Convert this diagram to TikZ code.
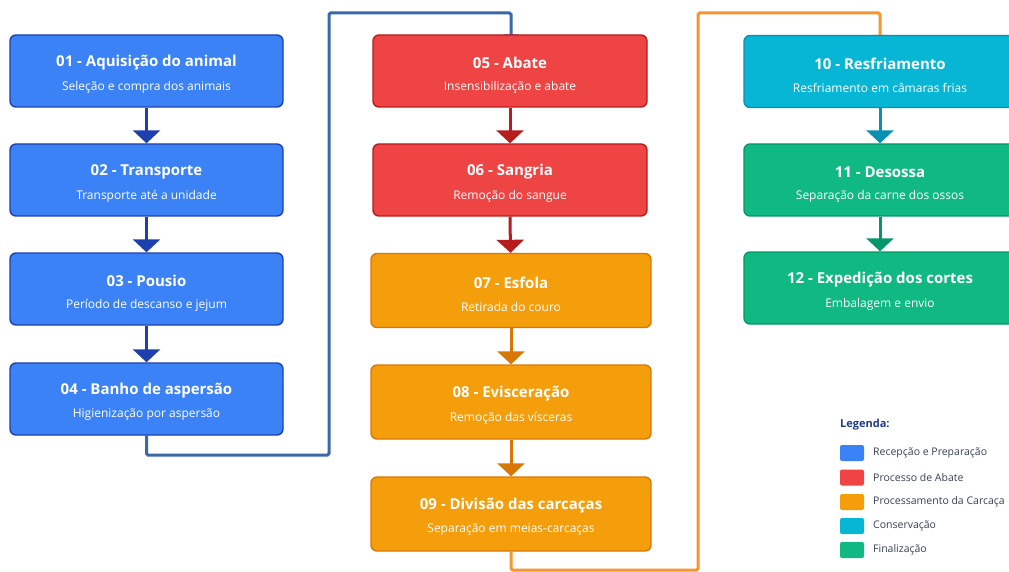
\documentclass[tikz,border=0pt]{standalone}
\usepackage{fontspec}
\setmainfont{Open Sans}
\usetikzlibrary{arrows.meta,calc}
\definecolor{bF}{HTML}{3B82F6}\definecolor{bD}{HTML}{1E40AF}
\definecolor{rF}{HTML}{EF4444}\definecolor{rD}{HTML}{B91C1C}
\definecolor{oF}{HTML}{F59E0B}\definecolor{oD}{HTML}{D97706}
\definecolor{cF}{HTML}{06B6D4}\definecolor{cD}{HTML}{0891B2}
\definecolor{gF}{HTML}{10B981}\definecolor{gD}{HTML}{059669}
\definecolor{linkB}{HTML}{3A69A6}\definecolor{linkO}{HTML}{F7962F}
\definecolor{legT}{HTML}{1E3A8A}\definecolor{legG}{HTML}{374151}
\pgfdeclarelayer{background}\pgfsetlayers{background,main}
\tikzset{
  procbox/.style 2 args={draw=#2, fill=#1, line width=1.4pt, rounded corners=6pt, inner sep=0pt},
  ttl/.style={text=white, font=\bfseries\fontsize{15}{18}\selectfont, inner sep=0pt},
  sub/.style={text=white, font=\fontsize{12}{14}\selectfont, inner sep=0pt},
  arr/.style={draw=#1, line width=3pt, -{Triangle[width=27pt,length=13pt]}},
  link/.style={draw=#1, line width=3pt, rounded corners=1.5pt, -{Triangle[width=14pt,length=11pt]}},
  swatch/.style={fill=#1, rounded corners=2pt, minimum width=24pt, minimum height=16pt, inner sep=0pt},
  legtxt/.style={text=legG, font=\fontsize{10.5}{12}\selectfont, anchor=west, inner sep=0pt}
}
\newcommand\mybox[8]{%
  \node[procbox={#5}{#6}, minimum width=#3, minimum height=#4] (#1) at #2 {};
  \node[ttl] (#1t) at ($(#1.center)+(0,-8)$) {#7};
  \node[sub] (#1s) at ($(#1.center)+(0,16)$) {#8};
}
\begin{document}
\begin{tikzpicture}[x=1pt,y=-1pt]
\useasboundingbox (0,0) rectangle (1009,572);
\clip (0,0) rectangle (1009,572);
% column 1
\mybox{n1}{(146.5,71)}{273pt}{72pt}{bF}{bD}{01 - Aquisição do animal}{Seleção e compra dos animais}
\mybox{n2}{(146.5,180)}{273pt}{72pt}{bF}{bD}{02 - Transporte}{Transporte até a unidade}
\mybox{n3}{(146.5,289)}{273pt}{72pt}{bF}{bD}{03 - Pousio}{Período de descanso e jejum}
\mybox{n4}{(146.5,399)}{273pt}{72pt}{bF}{bD}{04 - Banho de aspersão}{Higienização por aspersão}
% column 2
\mybox{n5}{(510,71)}{274pt}{72pt}{rF}{rD}{05 - Abate}{Insensibilização e abate}
\mybox{n6}{(510,180)}{274pt}{72pt}{rF}{rD}{06 - Sangria}{Remoção do sangue}
\mybox{n7}{(511,290.5)}{280pt}{74pt}{oF}{oD}{07 - Esfola}{Retirada do couro}
\mybox{n8}{(511,402)}{280pt}{74pt}{oF}{oD}{08 - Evisceração}{Remoção das vísceras}
\mybox{n9}{(511,514)}{280pt}{74pt}{oF}{oD}{09 - Divisão das carcaças}{Separação em meias-carcaças}
% column 3
\mybox{n10}{(880,71.5)}{272pt}{72pt}{cF}{cD}{10 - Resfriamento}{Resfriamento em câmaras frias}
\mybox{n11}{(880,180)}{272pt}{72pt}{gF}{gD}{11 - Desossa}{Separação da carne dos ossos}
\mybox{n12}{(880,288)}{272pt}{72pt}{gF}{gD}{12 - Expedição dos cortes}{Embalagem e envio}
% in-column arrows
\draw[arr=bD] (n1.south) -- (n2.north);
\draw[arr=bD] (n2.south) -- (n3.north);
\draw[arr=bD] (n3.south) -- (n4.north);
\draw[arr=rD] (n5.south) -- (n6.north);
\draw[arr=rD] (n6.south) -- ($(n7.north)+(-0.5,0)$);
\draw[arr=oD] (n7.south) -- (n8.north);
\draw[arr=oD] (n8.south) -- (n9.north);
\draw[arr=cD] (n10.south) -- (n11.north);
\draw[arr=gD] (n11.south) -- (n12.north);
% column links (behind boxes)
\begin{pgfonlayer}{background}
\fill[white] (0,0) rectangle (1009,572);
\draw[link=linkB] (n4.south) |- (329,455) |- (511,13) -- ($(n5.north)+(1,11)$);
\draw[link=linkO] (n9.south) |- (698,570) |- (880,13) -- ($(n10.north)+(0,11)$);
\end{pgfonlayer}
% legend
\node[anchor=west, text=legT, font=\bfseries\fontsize{11}{13}\selectfont, inner sep=0pt] (legh) at (840,425) {Legenda:};
\node[swatch=bF] (s1) at (852,453) {};
\node[swatch=rF] (s2) at (852,477.5) {};
\node[swatch=oF] (s3) at (852,502) {};
\node[swatch=cF] (s4) at (852,526) {};
\node[swatch=gF] (s5) at (852,550) {};
\node[legtxt] (l1) at (873,453) {Recepção e Preparação};
\node[legtxt] (l2) at (873,477.5) {Processo de Abate};
\node[legtxt] (l3) at (873,502) {Processamento da Carcaça};
\node[legtxt] (l4) at (873,526) {Conservação};
\node[legtxt] (l5) at (873,550) {Finalização};
\end{tikzpicture}
\end{document}
